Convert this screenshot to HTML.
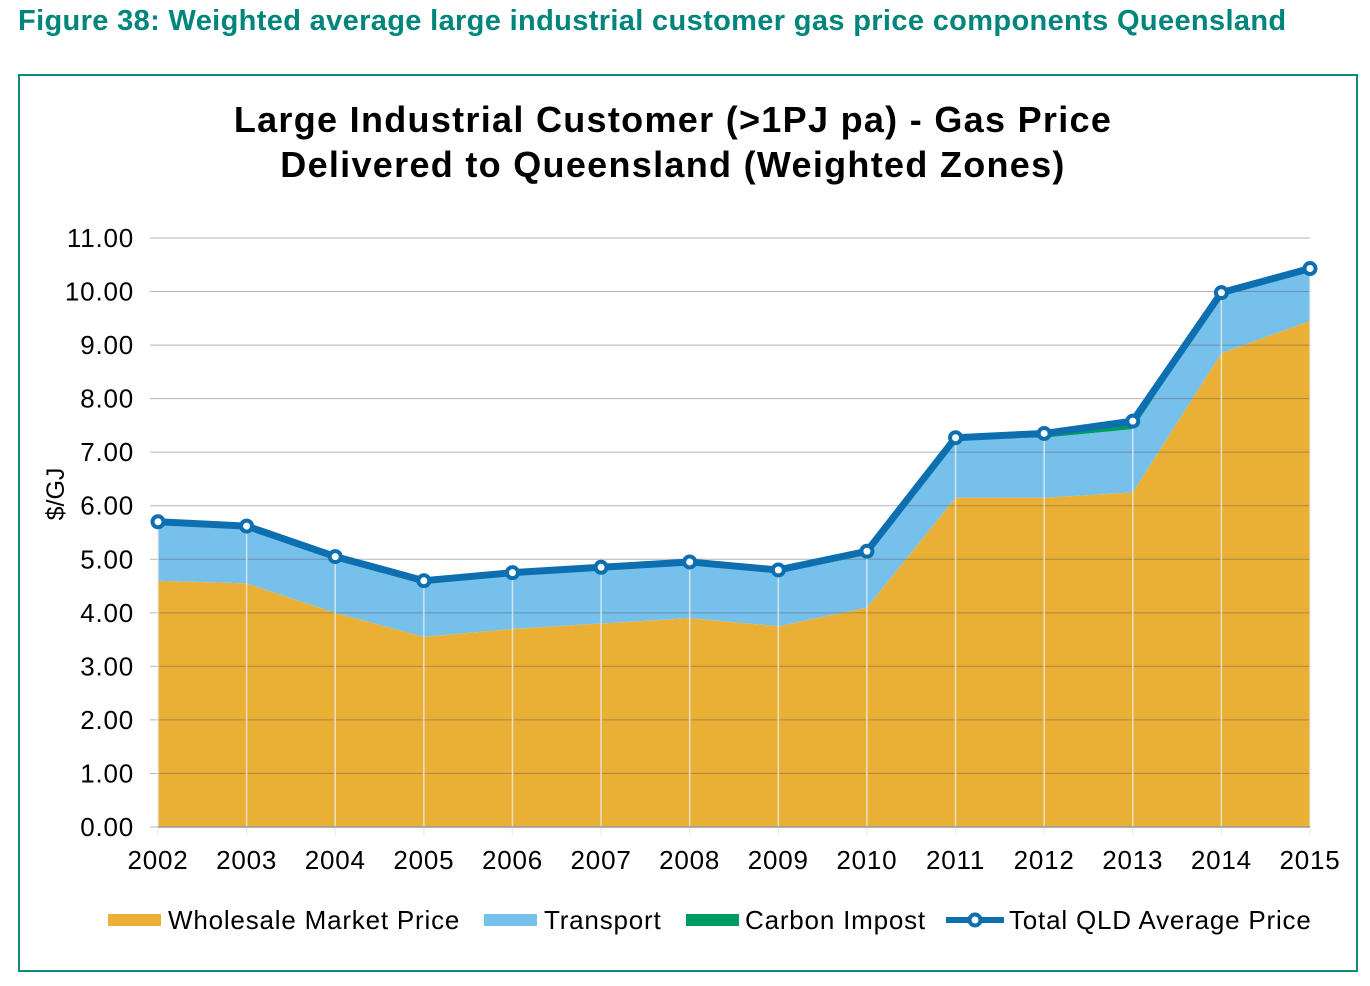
<!DOCTYPE html>
<html><head><meta charset="utf-8"><style>
body{margin:0;width:1370px;height:986px;background:#fff;font-family:"Liberation Sans",sans-serif;overflow:hidden}
#fig{position:absolute;left:18px;top:5px;font-size:29px;letter-spacing:0.35px;font-weight:bold;color:#00857c;white-space:nowrap}
#box{position:absolute;left:18px;top:74px;width:1340px;height:898px;border:2px solid #0a8a80;box-sizing:border-box}
</style></head><body>
<div id="fig">Figure 38: Weighted average large industrial customer gas price components Queensland</div>
<div id="box"></div>
<svg id="chart" width="1370" height="986" style="position:absolute;left:0;top:0">
<text x="673" y="132" text-anchor="middle" font-size="36" letter-spacing="1.3" font-weight="bold" fill="#000">Large Industrial Customer (&gt;1PJ pa) - Gas Price</text>
<text x="673" y="177" text-anchor="middle" font-size="36" letter-spacing="1.3" font-weight="bold" fill="#000">Delivered to Queensland (Weighted Zones)</text>
<text transform="translate(64,494) rotate(-90)" text-anchor="middle" font-size="25">$/GJ</text>
</svg>
<script>
const years=["2002","2003","2004","2005","2006","2007","2008","2009","2010","2011","2012","2013","2014","2015"];
const wholesale=[4.6,4.55,4.0,3.55,3.7,3.8,3.9,3.75,4.1,6.15,6.15,6.25,8.85,9.45];
const carbon=[0,0,0,0,0,0,0,0,0,0,0.08,0.15,0.05,0];
const total=[5.7,5.62,5.05,4.6,4.75,4.85,4.95,4.8,5.15,7.27,7.35,7.58,9.98,10.43];
const yTicks=[0,1,2,3,4,5,6,7,8,9,10,11];
const svg=document.getElementById('chart');const NS='http://www.w3.org/2000/svg';
const X=i=>158+i*(1310-158)/(years.length-1);
const Y=v=>827-v*(827-238)/11;
function mk(t,a){const e=document.createElementNS(NS,t);for(const k in a)e.setAttribute(k,a[k]);svg.appendChild(e);return e;}
function area(lo,hi,fill,name){let d='M'+X(0)+','+Y(hi[0]);for(let i=1;i<years.length;i++)d+='L'+X(i)+','+Y(hi[i]);for(let i=years.length-1;i>=0;i--)d+='L'+X(i)+','+Y(lo[i]);const p=mk('path',{d:d+'Z',fill:fill});

}
const zero=years.map(()=>0);
const belowCarbon=total.map((t,i)=>t-carbon[i]);
area(zero,wholesale,'#eab035','wholesale-area');
area(wholesale,belowCarbon,'#76c0ec','transport-area');
area(belowCarbon,total,'#009a63','carbon-impost-area');
yTicks.forEach(v=>{const l=mk('line',{x1:150,x2:1310,y1:Y(v),y2:Y(v),stroke:'rgba(90,90,90,0.45)','stroke-width':1});


const t=mk('text',{x:134,y:Y(v)+9,'text-anchor':'end','font-size':26,'letter-spacing':0.8});t.textContent=v.toFixed(2);

});
years.forEach((y,i)=>{const l=mk('line',{x1:X(i),x2:X(i),y1:Y(total[i]),y2:836,stroke:'rgba(235,235,235,0.8)','stroke-width':1.5});


const t=mk('text',{x:X(i),y:869,'text-anchor':'middle','font-size':26,'letter-spacing':0.8});t.textContent=y;

});
const ax=mk('line',{x1:158,x2:1310,y1:827,y2:827,stroke:'#999','stroke-width':1.5});


const pl=mk('polyline',{points:total.map((v,i)=>X(i)+','+Y(v)).join(' '),fill:'none',stroke:'#0d6fb0','stroke-width':7,'stroke-linejoin':'round'});


total.forEach((v,i)=>{const c=mk('circle',{cx:X(i),cy:Y(v),r:5.5,fill:'#fff',stroke:'#0d6fb0','stroke-width':4});

});
const leg=[['#eab035','Wholesale Market Price',108,168],['#76c0ec','Transport',484,544],['#009a63','Carbon Impost',686,745]];
leg.forEach(([c,n,x,tx])=>{const r=mk('rect',{x:x,y:914,width:53,height:12,fill:c});


const t=mk('text',{x:tx,y:929,'font-size':26,'letter-spacing':0.8});t.textContent=n;

});
const ll=mk('line',{x1:946,x2:1004,y1:920,y2:920,stroke:'#0d6fb0','stroke-width':6});


const lc=mk('circle',{cx:975,cy:920,r:5.5,fill:'#fff',stroke:'#0d6fb0','stroke-width':4});


const lt=mk('text',{x:1009,y:929,'font-size':26,'letter-spacing':0.8});lt.textContent='Total QLD Average Price';


</script>
</body></html>
